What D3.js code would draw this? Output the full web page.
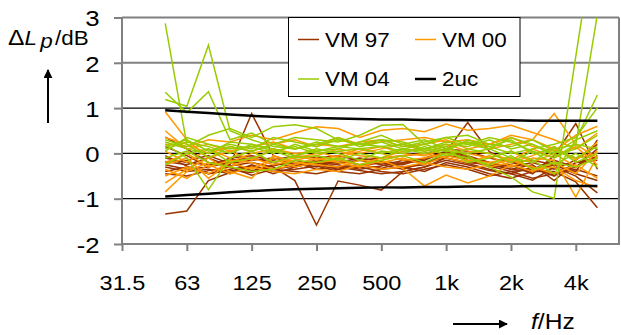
<!DOCTYPE html>
<html>
<head>
<meta charset="utf-8">
<script src="https://cdn.jsdelivr.net/npm/d3@7"></script>
<style>
  html, body { margin: 0; padding: 0; background: #fff; }
  svg { display: block; font-family: "Liberation Sans", Arial, Helvetica, sans-serif; }
</style>
</head>
<body>
<svg id="chart" width="621" height="335"></svg>
<script>
// Third-octave bands on the frequency axis (31.5 Hz ... 6.3 kHz)
const bands = ["31.5","40","50","63","80","100","125","160","200","250","315","400",
               "500","630","800","1k","1.25k","1.6k","2k","2.5k","3.15k","4k","5k","6.3k"];
// Bands carrying a tick label
const tickBands = ["31.5","63","125","250","500","1k","2k","4k"];
// Bands with measured values (50 Hz ... 5 kHz)
const measuredBands = bands.slice(2, 23);
const yTicks = [-2, -1, 0, 1, 2, 3];

// Level deviations ΔLp in dB, one row per run, 50 Hz ... 5 kHz
const vm97 = [
  [-1.34,-1.27,-0.60,-0.42,-0.30,-0.35,-0.28,-0.22,-0.30,-0.25,-0.33,-0.20,-0.12, 0.02,-0.08,-0.20,-0.35,-0.40,-0.25,-0.45,-0.60],
  [-0.18,-0.25,-0.10,-0.28,-0.20,-0.30,-0.60,-1.58,-0.61,-0.70,-0.81,-0.40,-0.30,-0.10,-0.22,-0.35,-0.45,-0.30,-0.50,-0.20,-0.10],
  [ 0.36, 0.10,-0.20,-0.25, 0.88,-0.05,-0.20,-0.30,-0.15,-0.25,-0.20,-0.30,-0.25, 0.05,-0.15,-0.28,-0.40,-0.35,-0.15,-0.30,-0.05],
  [-0.25,-0.35,-0.30,-0.20,-0.38,-0.28,-0.15,-0.25,-0.35,-0.28,-0.20,-0.25,-0.10, 0.04, 0.68, 0.04,-0.20,-0.30,-0.45,-0.30, 0.10],
  [-0.10,-0.20,-0.25,-0.15,-0.10,-0.20,-0.30,-0.18,-0.22,-0.15,-0.25,-0.35,-0.20,-0.05,-0.10,-0.30,-0.25,-0.45,-0.05, 0.66,-0.35],
  [-0.30,-0.40,-0.35,-0.45,-0.25,-0.40,-0.35,-0.28,-0.40,-0.45,-0.35,-0.30,-0.40,-0.20,-0.30,-0.45,-0.55,-0.40,-0.40,-0.63,-1.20],
  [-0.40,-0.30,-0.45,-0.38,-0.42,-0.25,-0.20,-0.35,-0.30,-0.38,-0.45,-0.40,-0.30,-0.15,-0.25,-0.38,-0.45,-0.59,-0.30,-0.50,-0.87],
  [-0.20,-0.15,-0.05,-0.22,-0.15,-0.10,-0.25,-0.15,-0.20,-0.10,-0.18,-0.22,-0.15, 0.05,-0.05,-0.20,-0.30,-0.20,-0.35,-0.15, 0.20],
  [ 0.15,-0.05,-0.30,-0.10,-0.05,-0.15,-0.05,-0.10,-0.05,-0.15,-0.10,-0.05, 0.00, 0.10, 0.05,-0.10,-0.20,-0.15,-0.25,-0.40, 0.30],
  [-0.45,-0.50,-0.38,-0.30,-0.48,-0.35,-0.40,-0.45,-0.35,-0.30,-0.40,-0.45,-0.35,-0.25,-0.35,-0.50,-0.40,-0.55,-0.45,-0.35,-0.50],
  [-0.05,-0.28,-0.45,-0.35,-0.28,-0.45,-0.30,-0.20,-0.25,-0.35,-0.28,-0.15,-0.20,-0.10,-0.20,-0.25,-0.35,-0.25,-0.60,-0.20,-0.15]
];
const vm00 = [
  [ 0.92, 0.30,-0.10, 0.05,-0.15, 0.10, 0.00, 0.05,-0.10, 0.05, 0.15, 0.00,-0.05, 0.10, 0.00,-0.10, 0.05,-0.20, 0.00,-0.30,-0.10],
  [ 0.20, 0.15, 0.30, 0.25, 0.40, 0.30, 0.45, 0.59, 0.55, 0.35, 0.51, 0.55, 0.48, 0.65, 0.51, 0.55, 0.62, 0.46, 0.30, 0.10, 0.45],
  [-0.85,-0.40,-0.20,-0.30,-0.10,-0.25,-0.15,-0.05, 0.10, 0.00, 0.10, 0.20, 0.05, 0.15, 0.25, 0.10, 0.20, 0.30, 0.88, 0.20,-0.10],
  [-0.50,-0.30,-0.45,-0.20,-0.35,-0.10,-0.30,-0.20,-0.15,-0.25,-0.10,-0.05, 0.00,-0.10,-0.20,-0.05,-0.30,-0.10,-0.15,-0.96,-0.05],
  [-0.20, 0.00,-0.30,-0.15,-0.20,-0.35,-0.25,-0.10,-0.20,-0.30,-0.15,-0.33,-0.72,-0.48,-0.65,-0.50,-0.25,-0.40,-0.20,-0.45, 0.05],
  [ 0.50, 0.10, 0.20, 0.05, 0.15, 0.25, 0.10, 0.20, 0.15, 0.25, 0.30, 0.15, 0.20, 0.30, 0.10, 0.20, 0.35, 0.15, 0.05, 0.40, 0.60],
  [-0.65,-0.35,-0.10,-0.40,-0.55,-0.05,-0.20,-0.25,-0.30,-0.15,-0.20,-0.10,-0.25,-0.05,-0.15,-0.20,-0.10,-0.35,-0.30,-0.60,-0.75],
  [ 0.05,-0.20, 0.10,-0.10, 0.05,-0.20,-0.10, 0.00, 0.05,-0.05,-0.10, 0.05, 0.10, 0.20, 0.05, 0.00,-0.15, 0.10,-0.10, 0.15,-0.25],
  [-0.25,-0.10,-0.55,-0.20, 0.00, 0.10,-0.05,-0.15,-0.05, 0.10, 0.00,-0.15,-0.10, 0.00,-0.10,-0.30,-0.20,-0.05, 0.15,-0.15, 0.25],
  [ 0.35, 0.20, 0.00, 0.15, 0.05, 0.20, 0.30, 0.15, 0.35, 0.20, 0.25, 0.30, 0.35, 0.25, 0.30, 0.20, 0.40, 0.30, 0.10,-0.10, 0.00],
  [-0.35,-0.55,-0.25,-0.45,-0.30,-0.40,-0.45,-0.35,-0.40,-0.25,-0.35,-0.30,-0.20,-0.30,-0.35,-0.25,-0.15,-0.30,-0.45,-0.25,-0.55]
];
const vm04 = [
  [ 2.87, 0.20,-0.10, 0.15, 0.05, 0.20, 0.10, 0.25, 0.15, 0.20, 0.30, 0.25, 0.10, 0.20, 0.15, 0.30, 0.10, 0.20, 0.00, 0.30, 1.29],
  [ 1.35, 0.90, 1.36, 0.30, 0.45, 0.20, 0.35, 0.30, 0.25, 0.40, 0.62, 0.64, 0.20, 0.35, 0.20, 0.35, 0.25, 0.05,-0.10, 0.20, 0.10],
  [ 1.19, 1.04, 2.39, 0.50, 0.30, 0.15, 0.10, 0.20, 0.35, 0.15, 0.25, 0.10, 0.20, 0.05, 0.30, 0.15, 0.00, 0.10, 0.20, 0.35, 1.01],
  [ 0.20,-0.10,-0.80,-0.10, 0.05,-0.20,-0.05, 0.10, 0.00,-0.15, 0.05, 0.00, 0.15,-0.05, 0.10, 0.00,-0.20, 0.05,-0.25, 0.00,-0.30],
  [ 0.10, 0.25, 0.15, 0.00, 0.20, 0.10,-0.05, 0.05, 0.15, 0.10, 0.00, 0.10, 0.05, 0.15,-0.05,-0.30,-0.52,-0.85,-0.99, 2.14, 5.20],
  [ 0.15, 0.30, 0.05, 0.20, 0.10, 0.35, 0.25, 0.15, 0.30, 0.20, 0.15, 0.20, 0.30, 0.10, 0.25, 0.15, 0.30, 0.00, 0.10, 0.19, 3.07],
  [ 0.30, 0.15, 0.40, 0.55, 0.35, 0.59, 0.63, 0.55, 0.30, 0.20, 0.30, 0.15, 0.25, 0.35, 0.40, 0.20, 0.15, 0.30, 0.05,-0.10, 0.15],
  [-0.10, 0.05,-0.20,-0.30,-0.40,-0.35,-0.15,-0.20,-0.10,-0.25,-0.15,-0.05,-0.20, 0.00,-0.10,-0.25,-0.05,-0.35,-0.20,-0.30,-0.10],
  [ 0.05, 0.35, 0.20, 0.10, 0.15, 0.00, 0.20, 0.05, 0.10, 0.25, 0.40, 0.20, 0.10, 0.25, 0.20, 0.10, 0.35, 0.20,-0.05, 0.10, 0.40],
  [ 0.25, 0.10, 0.00, 0.25, 0.20, 0.05, 0.15, 0.00, 0.05, 0.10, 0.15, 0.05, 0.10, 0.05, 0.00, 0.10,-0.10,-0.20, 0.15,-0.20, 0.00],
  [-0.25, 0.00, 0.10,-0.20,-0.10, 0.05,-0.10,-0.05,-0.15, 0.00,-0.10, 0.10, 0.00, 0.10,-0.20,-0.10, 0.05,-0.15,-0.45, 0.30, 0.50]
];
// Expanded uncertainty bounds (±2uc)
const ucUpper = [0.95,0.92,0.89,0.86,0.83,0.81,0.79,0.78,0.77,0.76,0.75,0.75,0.74,0.74,0.73,0.73,0.73,0.72,0.72,0.72,0.72];
const ucLower = [-0.95,-0.92,-0.89,-0.86,-0.83,-0.81,-0.79,-0.78,-0.77,-0.76,-0.75,-0.75,-0.74,-0.74,-0.73,-0.73,-0.73,-0.72,-0.72,-0.72,-0.72];

const seriesNames = ["VM 97", "VM 00", "VM 04", "2uc"];
const seriesColors = ["#993300", "#FF9900", "#99CC00", "#000000"];

const svg = d3.select("#chart");
const plot = { left: 122, right: 619, top: 17.5, bottom: 244 };
const stretch = 1.12; // horizontal stretch of the lettering

const x = d3.scalePoint().domain(bands).range([plot.left, plot.right]);
const y = d3.scaleLinear().domain([-2, 3]).range([plot.bottom, plot.top]);

// Horizontal grid lines
svg.append("g").selectAll("line")
  .data(yTicks.filter(v => v > -2))
  .join("line")
  .attr("x1", plot.left).attr("x2", plot.right)
  .attr("y1", d => y(d)).attr("y2", d => y(d))
  .attr("stroke", d => Math.abs(d) <= 1 ? "#000" : "#808080")
  .attr("stroke-width", d => Math.abs(d) <= 1 ? 1.2 : 2);

// Plot frame (left, bottom, right)
svg.append("path")
  .attr("d", `M${plot.left},${plot.top}V${plot.bottom}H${plot.right}V${plot.top}`)
  .attr("fill", "none").attr("stroke", "#808080").attr("stroke-width", 2);

// Y axis
const yAxis = svg.append("g")
  .attr("transform", `translate(${plot.left},0)`)
  .call(d3.axisLeft(y).tickValues(yTicks).tickSize(8).tickFormat(d => String(d)));
yAxis.select(".domain").remove();
yAxis.selectAll(".tick line").attr("stroke", "#808080").attr("stroke-width", 2);
yAxis.selectAll(".tick text")
  .attr("x", -20).attr("dy", "0.36em")
  .attr("transform", `scale(${stretch},1)`)
  .attr("font-size", 23).attr("fill", "#000");

// X axis
const xAxis = svg.append("g")
  .attr("transform", `translate(0,${plot.bottom})`)
  .call(d3.axisBottom(x).tickValues(tickBands).tickSize(7));
xAxis.select(".domain").remove();
xAxis.selectAll(".tick line").attr("stroke", "#808080").attr("stroke-width", 2);
xAxis.selectAll(".tick text")
  .attr("y", 46).attr("dy", 0)
  .attr("transform", `scale(${stretch},1)`)
  .attr("font-size", 21).attr("fill", "#000");

// Data lines, clipped to the plot area
svg.append("clipPath").attr("id", "plotClip")
  .append("rect")
  .attr("x", plot.left).attr("y", plot.top)
  .attr("width", plot.right - plot.left).attr("height", plot.bottom - plot.top);

const line = d3.line()
  .x((d, i) => x(measuredBands[i]))
  .y(d => y(d));

const lines = svg.append("g").attr("clip-path", "url(#plotClip)");
[[vm97, 0], [vm00, 1], [vm04, 2]].forEach(([runs, k]) => {
  lines.append("g").selectAll("path")
    .data(runs)
    .join("path")
    .attr("d", line)
    .attr("fill", "none")
    .attr("stroke", seriesColors[k])
    .attr("stroke-width", 1.5)
    .attr("stroke-linejoin", "miter");
});
lines.append("g").selectAll("path")
  .data([ucUpper, ucLower])
  .join("path")
  .attr("d", line)
  .attr("fill", "none")
  .attr("stroke", seriesColors[3])
  .attr("stroke-width", 2.5);

// Legend
const legend = svg.append("g");
legend.append("rect")
  .attr("x", 288.5).attr("y", 17.5).attr("width", 231.5).attr("height", 79)
  .attr("fill", "#fff").attr("stroke", "#000").attr("stroke-width", 1);
const legendPos = [[298, 39.5], [415, 39.5], [298, 79], [415, 79]];
seriesNames.forEach((name, k) => {
  const [lx, ly] = legendPos[k];
  legend.append("line")
    .attr("x1", lx).attr("x2", lx + 21).attr("y1", ly).attr("y2", ly)
    .attr("stroke", seriesColors[k]).attr("stroke-width", k === 3 ? 2.5 : 1.5);
  legend.append("text")
    .attr("transform", `translate(${lx + 27},${ly + 7}) scale(${stretch},1)`)
    .attr("font-size", 20).attr("fill", "#000")
    .text(name);
});

// Y axis title with upward arrow
const yTitle = svg.append("text")
  .attr("transform", `translate(8,45) scale(${stretch},1)`)
  .attr("font-size", 20).attr("fill", "#000");
yTitle.append("tspan").attr("font-size", 22).text("Δ");
yTitle.append("tspan").attr("font-style", "italic").text("L");
yTitle.append("tspan").attr("font-style", "italic").attr("dx", 3).attr("dy", 3).text("p");
yTitle.append("tspan").attr("dx", 2).attr("dy", -3).text("/dB");

svg.append("defs").append("marker")
  .attr("id", "arrowHead")
  .attr("viewBox", "0 0 10 10").attr("refX", 9).attr("refY", 5)
  .attr("markerWidth", 4.5).attr("markerHeight", 4.5)
  .attr("markerUnits", "strokeWidth")
  .attr("orient", "auto")
  .append("path").attr("d", "M0,0L10,5L0,10Z").attr("fill", "#000");

svg.append("line")
  .attr("x1", 48).attr("x2", 48).attr("y1", 123).attr("y2", 70)
  .attr("stroke", "#000").attr("stroke-width", 2)
  .attr("marker-end", "url(#arrowHead)");

// X axis title with rightward arrow
svg.append("line")
  .attr("x1", 453).attr("x2", 507).attr("y1", 324).attr("y2", 324)
  .attr("stroke", "#000").attr("stroke-width", 2)
  .attr("marker-end", "url(#arrowHead)");
const xTitle = svg.append("text")
  .attr("transform", `translate(531,329) scale(${stretch},1)`)
  .attr("font-size", 22).attr("fill", "#000");
xTitle.append("tspan").attr("font-style", "italic").text("f");
xTitle.append("tspan").text("/Hz");
</script>
</body>
</html>
